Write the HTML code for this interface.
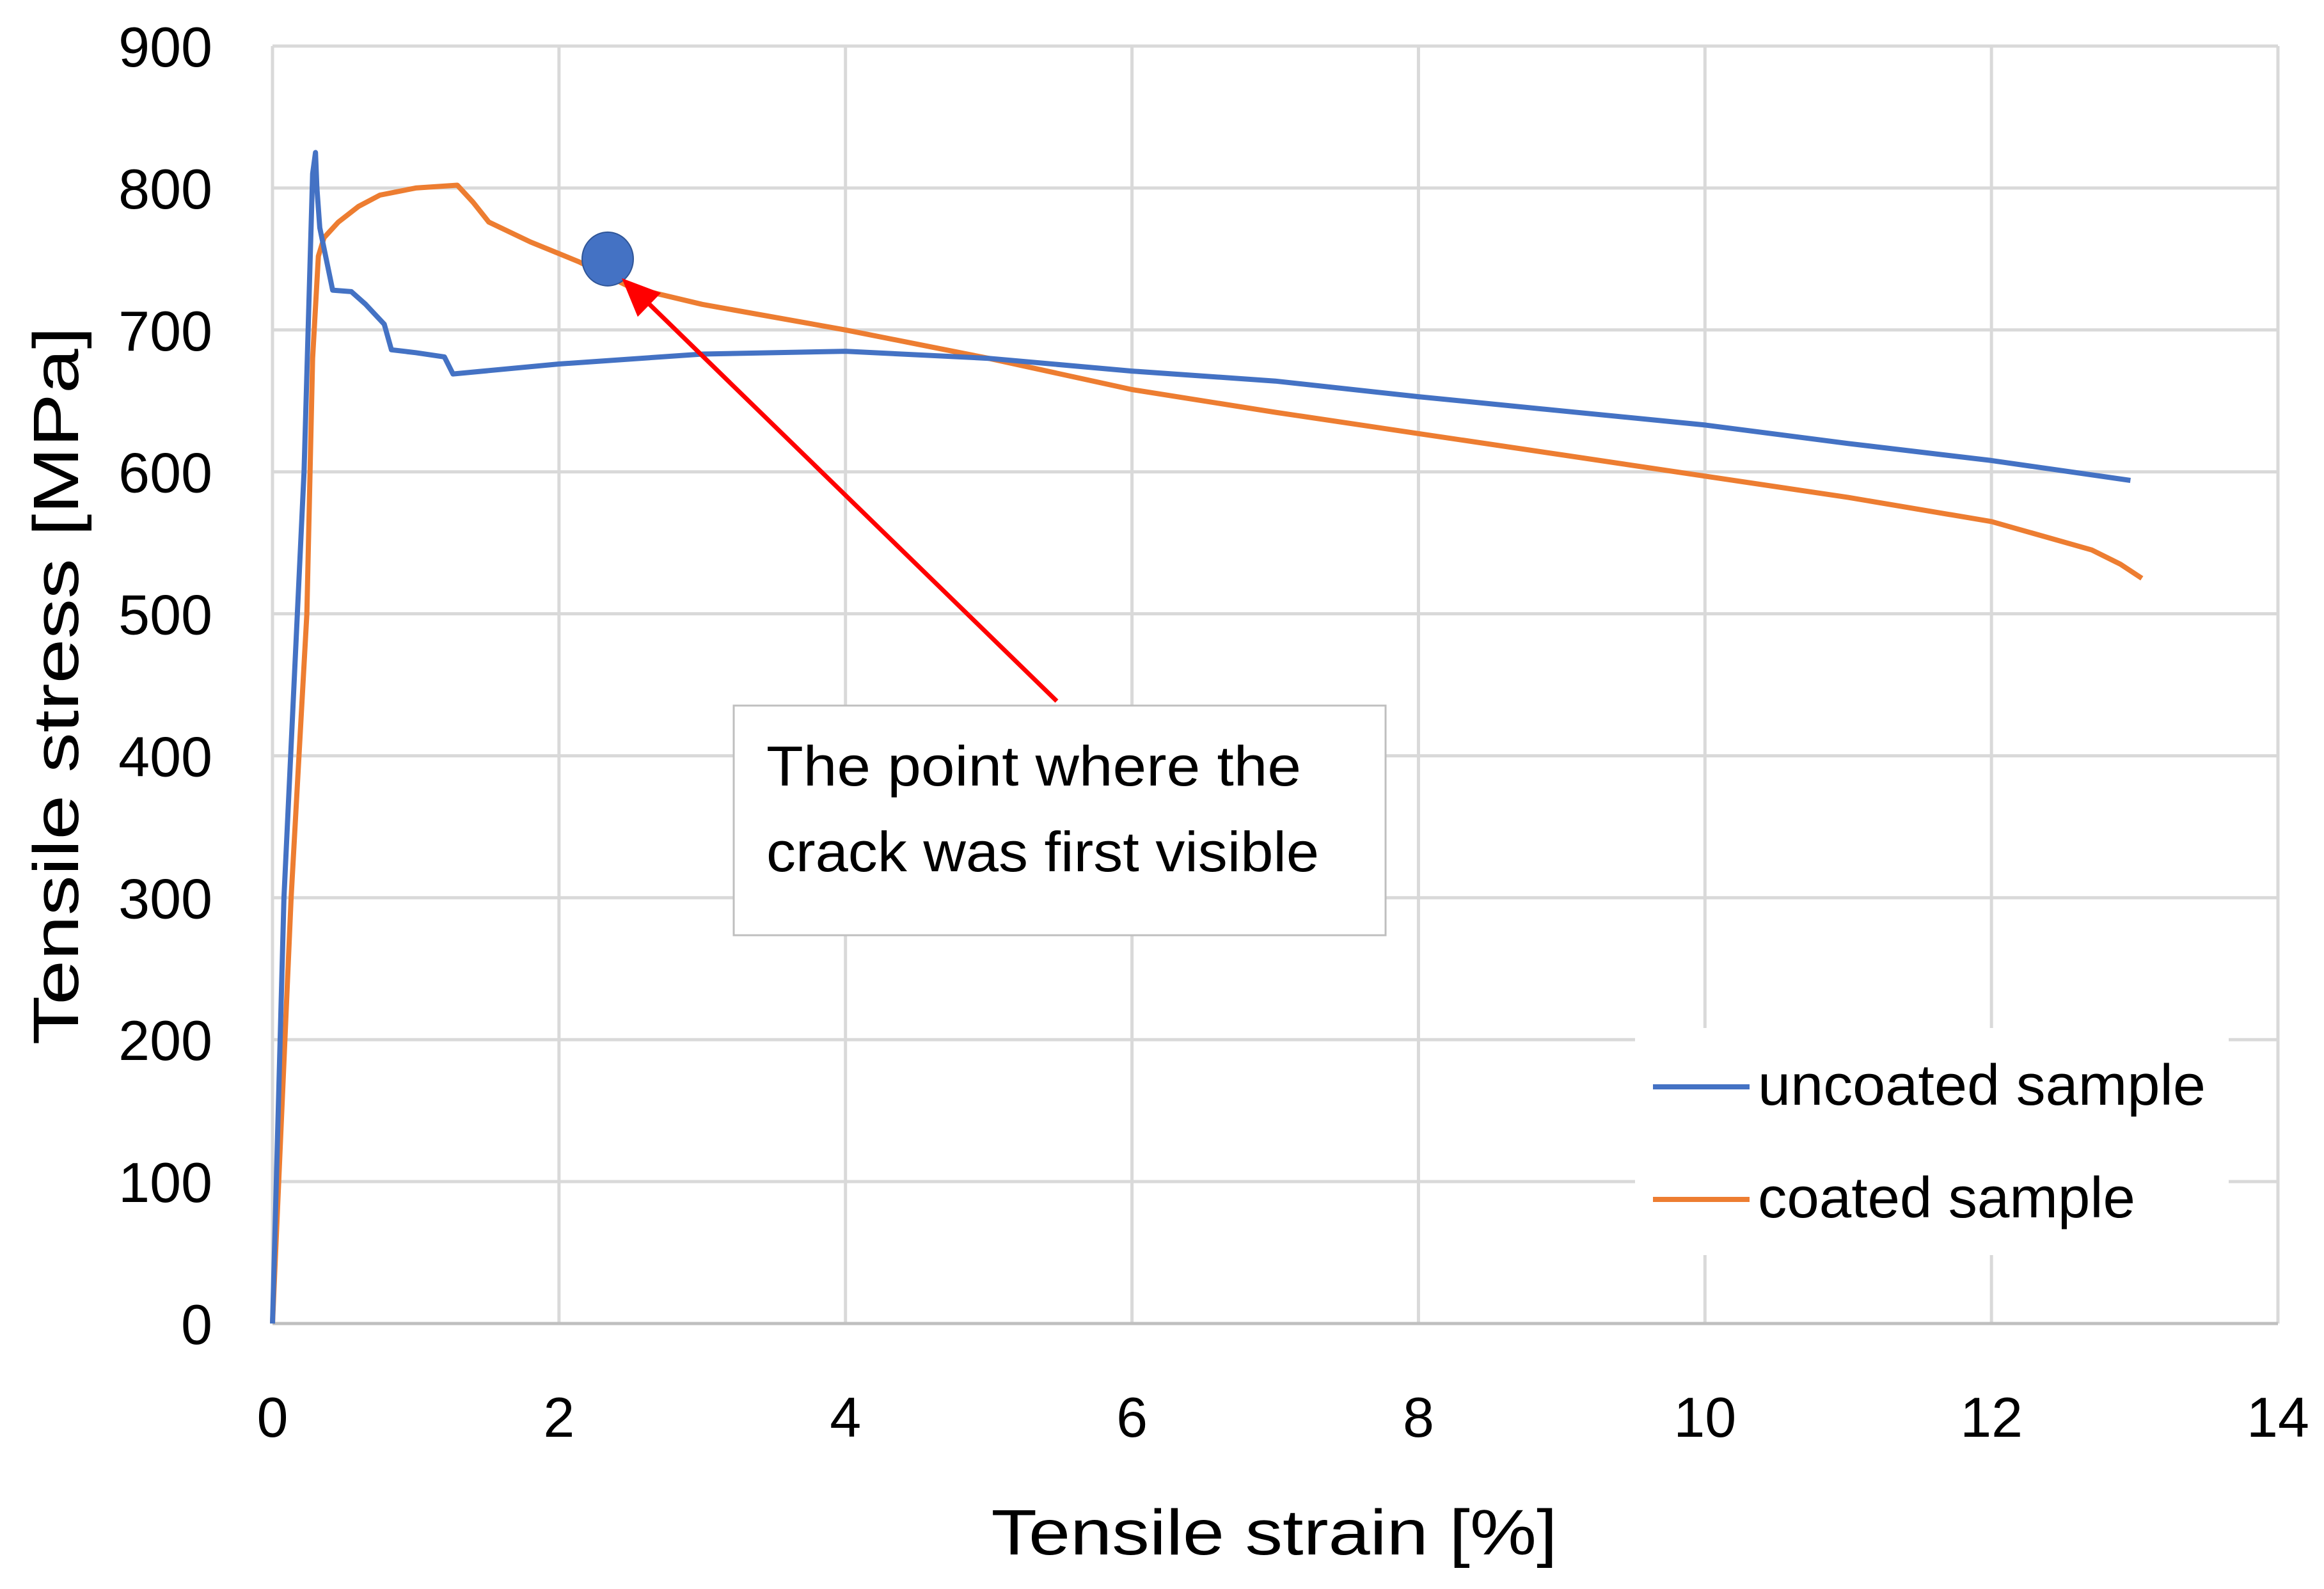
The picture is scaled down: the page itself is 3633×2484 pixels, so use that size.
<!DOCTYPE html>
<html><head><meta charset="utf-8"><style>
html,body{margin:0;padding:0;background:#fff}
svg{display:block}
text{font-family:"Liberation Sans",sans-serif;fill:#000}
</style></head><body>
<svg id="chart" width="3633" height="2484" viewBox="0 0 3633 2484" xmlns="http://www.w3.org/2000/svg">
<g id="grid"></g>
<g id="axes"></g>
<g id="series"></g>
<g id="annot"></g>
<g id="legend"></g>
</svg>
<script>
const xTicks = [0,2,4,6,8,10,12,14];
const yTicks = [0,100,200,300,400,500,600,700,800,900];
const uncoatedX = [0,0.08,0.22,0.28,0.30,0.31,0.33,0.42,0.55,0.65,0.78,0.83,1.0,1.2,1.26,2,3,4,5,6,7,8,9,10,11,12,12.97];
const uncoatedY = [0,300,600,810,825,800,772,728,727,718,704,686,684,681,669,676,683,685,680,671,664,653,643,633,620,608,594];
const coatedX = [0,0.13,0.24,0.28,0.32,0.36,0.46,0.6,0.75,1.0,1.29,1.4,1.51,1.8,2.14,2.5,3,4,5,6,7,8,9,10,11,12,12.7,12.9,13.05];
const coatedY = [0,300,500,680,752,765,776,787,795,800,802,790,776,762,748,730,718,700,680,658,642,627,612,597,582,565,545,535,525];
const crackPoint = [2.34, 750];

const NS="http://www.w3.org/2000/svg";
const X0=426,X1=3561,Y0=2069,Y1=72;
const sx=v=>X0+(v-0)/(14-0)*(X1-X0);
const sy=v=>Y0-(v-0)/(900-0)*(Y0-Y1);
function mk(tag,attrs,parent){const e=document.createElementNS(NS,tag);for(const k in attrs)e.setAttribute(k,attrs[k]);parent.appendChild(e);return e;}
const grid=document.getElementById('grid'),axes=document.getElementById('axes'),series=document.getElementById('series'),annot=document.getElementById('annot'),legend=document.getElementById('legend');

xTicks.forEach(t=>{
  const l=mk('line',{x1:sx(t),x2:sx(t),y1:Y1,y2:Y0,stroke:'#d9d9d9','stroke-width':5},grid);
  
  
  const tx=mk('text',{x:sx(t),y:2246,'font-size':88,'text-anchor':'middle'},axes);
  tx.textContent=t;
  
  
});
yTicks.forEach(t=>{
  const l=mk('line',{x1:X0,x2:X1,y1:sy(t),y2:sy(t),stroke:t===0?'#bfbfbf':'#d9d9d9','stroke-width':5},grid);
  
  
  const tx=mk('text',{x:332,y:sy(t)+32,'font-size':88,'text-anchor':'end'},axes);
  tx.textContent=t;
  
  
});
const yt=mk('text',{x:0,y:0,'font-size':100,'text-anchor':'middle',transform:'translate(122,1072) rotate(-90)',textLength:1123,lengthAdjust:'spacingAndGlyphs'},axes);
yt.textContent='Tensile stress [MPa]';


const xt=mk('text',{x:1992,y:2430,'font-size':100,'text-anchor':'middle',textLength:885,lengthAdjust:'spacingAndGlyphs'},axes);
xt.textContent='Tensile strain [%]';



function line(xs,ys,color,name){
  const d=xs.map((x,i)=>(i?'L':'M')+sx(x).toFixed(1)+','+sy(ys[i]).toFixed(1)).join(' ');
  const p=mk('path',{d:d,fill:'none',stroke:color,'stroke-width':8,'stroke-linejoin':'round'},series);
  
  
}
line(coatedX,coatedY,'#ED7D31','coated-sample-line');
line(uncoatedX,uncoatedY,'#4472C4','uncoated-sample-line');

const dot=mk('ellipse',{cx:sx(crackPoint[0]),cy:sy(crackPoint[1]),rx:40,ry:42,fill:'#4472C4',stroke:'#2f5597','stroke-width':2},annot);


const ax2=sx(crackPoint[0])+22,ay2=sy(crackPoint[1])+30;
const arr=mk('line',{x1:1652,y1:1096,x2:ax2+25,y2:ay2+23,stroke:'#ff0000','stroke-width':7},annot);


const ang=Math.atan2(1096-ay2,1652-ax2);
const hx=ax2,hy=ay2,L=60,W=26;
const bx=hx+L*Math.cos(ang),by=hy+L*Math.sin(ang);
const head=mk('polygon',{points:`${hx},${hy} ${bx+W*Math.sin(ang)},${by-W*Math.cos(ang)} ${bx-W*Math.sin(ang)},${by+W*Math.cos(ang)}`,fill:'#ff0000'},annot);


const box=mk('rect',{x:1147,y:1103,width:1019,height:359,fill:'#fff',stroke:'#bfbfbf','stroke-width':3},annot);


const t1=mk('text',{x:1198,y:1228,'font-size':88,textLength:836,lengthAdjust:'spacingAndGlyphs'},annot);
t1.textContent='The point where the';


const t2=mk('text',{x:1198,y:1362,'font-size':88,textLength:864,lengthAdjust:'spacingAndGlyphs'},annot);
t2.textContent='crack was first visible';



const lb=mk('rect',{x:2556,y:1607,width:928,height:355,fill:'#fff'},legend);


[['uncoated sample','#4472C4',1699,700],['coated sample','#ED7D31',1875,590]].forEach(([lab,c,y,w])=>{
  const ll=mk('line',{x1:2584,x2:2735,y1:y,y2:y,stroke:c,'stroke-width':8},legend);
  
  
  const lt=mk('text',{x:2748,y:y+28,'font-size':90,textLength:w,lengthAdjust:'spacingAndGlyphs'},legend);
  lt.textContent=lab;
  
  
});
</script>
</body></html>
